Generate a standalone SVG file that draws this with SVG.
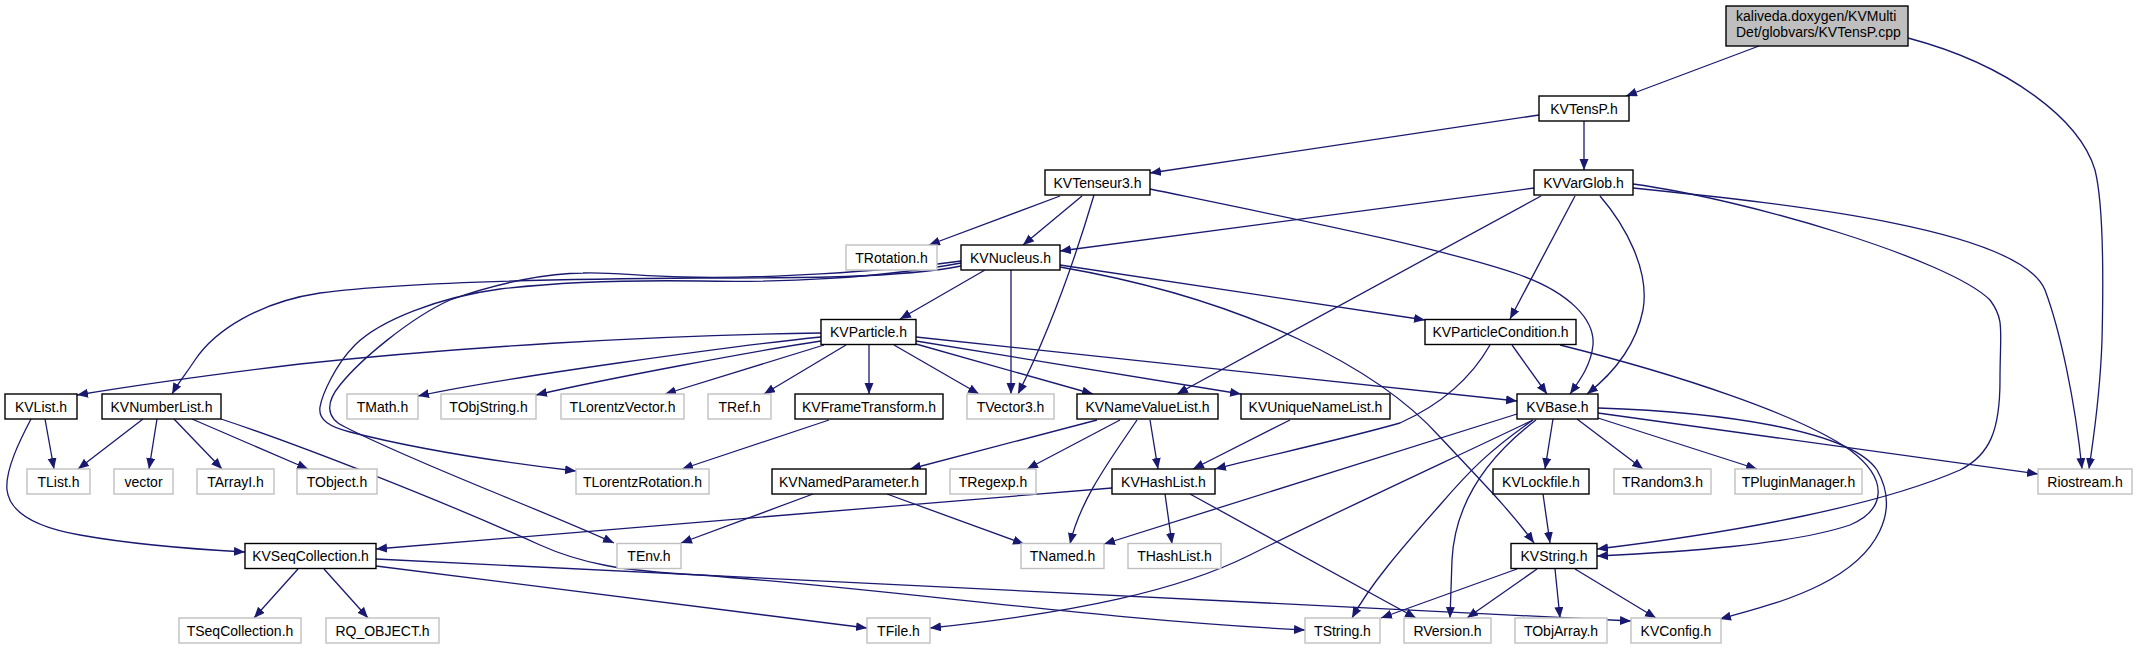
<svg xmlns="http://www.w3.org/2000/svg" width="2137" height="649" viewBox="0 0 2137 649">
<style>
.n rect{fill:#fff;stroke:#000;stroke-width:1.4}
.g rect{fill:#fff;stroke:#c0c0c0;stroke-width:1.4}
.r rect{fill:#bfbfbf;stroke:#000;stroke-width:1.4}
text{font-family:"Liberation Sans",Arial,sans-serif;font-size:14px;text-anchor:middle;fill:#000}
.r text{text-anchor:start}
#edges path{fill:none;stroke:#191970;stroke-width:1.3;marker-end:url(#a)}
</style>
<defs>
<marker id="a" markerWidth="12" markerHeight="10" refX="11" refY="4.5" orient="auto" markerUnits="userSpaceOnUse"><path d="M0,0 L11,4.5 L0,9 z" fill="#191970"/></marker>
</defs>
<rect width="2137" height="649" fill="#fff"/>
<g id="edges">
<path d="M1759,46 L1626,96"/>
<path d="M1908,38 C2010,65 2080,120 2095,170 C2105,210 2103,300 2102,340 C2100,400 2093,440 2089,469"/>
<path d="M1539,115 L1150,173"/>
<path d="M1584,121 L1584,170"/>
<path d="M1060,196 L929,245"/>
<path d="M1082,196 L1023,245"/>
<path d="M1094,195 Q1060,310 1018,394"/>
<path d="M1150,189 C1300,220 1450,250 1520,275 C1570,293 1595,320 1593,345 C1591,365 1580,380 1570,394"/>
<path d="M1534,188 L1060,251"/>
<path d="M1541,196 L1177,394"/>
<path d="M1575,196 L1510,319"/>
<path d="M1600,196 C1625,225 1650,270 1643,310 C1636,345 1615,372 1587,394"/>
<path d="M1633,184 C1750,200 1950,260 1990,300 C2005,320 2000,330 2000,380 C2000,430 1990,455 1960,470 C1880,505 1740,532 1597,549"/>
<path d="M1633,188 C1800,205 2020,230 2045,290 C2060,330 2075,400 2082,469"/>
<path d="M985,270 L900,319"/>
<path d="M961,266 C900,278 800,278 700,278 C550,279 400,282 320,293 C260,302 215,330 195,360 C185,375 177,385 172,394"/>
<path d="M961,263 C880,278 780,283 700,281 C630,280 560,282 500,289 C440,297 380,320 355,345 C335,365 322,395 320,407 C318,420 330,427 350,432 C420,450 500,462 576,471"/>
<path d="M961,261 C880,272 760,279 683,277 C640,276 610,272 583,273 C550,273 500,282 450,300 C410,318 360,360 340,385 C326,402 325,418 345,427 C420,465 530,505 614,543"/>
<path d="M1011,270 L1011,394"/>
<path d="M1060,265 L1425,320"/>
<path d="M1060,267 C1250,300 1380,370 1440,437 C1480,480 1510,510 1534,543"/>
<path d="M821,333 C650,335 450,348 300,364 C200,376 120,388 77,395"/>
<path d="M821,337 C740,345 500,378 418,396"/>
<path d="M821,341 C760,350 600,380 536,395"/>
<path d="M824,345 L665,394"/>
<path d="M846,345 L764,394"/>
<path d="M869,344 L869,394"/>
<path d="M894,345 L979,394"/>
<path d="M916,344 L1093,394"/>
<path d="M916,341 L1241,394"/>
<path d="M916,337 L1517,401"/>
<path d="M143,419 L78,469"/>
<path d="M157,419 L149,469"/>
<path d="M174,419 L222,469"/>
<path d="M192,419 L308,469"/>
<path d="M221,419 C300,445 440,500 540,545 C580,563 620,571 700,575 C900,590 1100,620 1305,630"/>
<path d="M45,419 L54,469"/>
<path d="M31,419 C20,440 5,470 7,490 C10,515 40,528 80,535 C130,544 190,549 245,552"/>
<path d="M298,569 L254,618"/>
<path d="M324,569 L368,618"/>
<path d="M376,566 L867,628"/>
<path d="M376,559 L1631,621"/>
<path d="M1112,488 L376,549"/>
<path d="M1165,494 L1172,544"/>
<path d="M1190,494 L1416,618"/>
<path d="M829,420 L682,469"/>
<path d="M813,494 L681,543"/>
<path d="M887,494 L1024,544"/>
<path d="M1097,420 L910,469"/>
<path d="M1120,420 L1027,469"/>
<path d="M1137,420 C1110,460 1080,500 1070,544"/>
<path d="M1150,420 L1158,469"/>
<path d="M1290,420 L1193,469"/>
<path d="M1512,345 L1547,394"/>
<path d="M1490,345 C1470,380 1440,405 1400,423 C1340,440 1270,455 1215,469"/>
<path d="M1560,345 C1680,375 1800,415 1850,450 C1890,480 1885,510 1850,525 C1790,545 1680,552 1597,556"/>
<path d="M1517,414 L1104,544"/>
<path d="M1533,420 C1460,455 1330,515 1250,555 C1180,590 1080,612 930,628"/>
<path d="M1533,420 C1490,450 1470,470 1440,505 C1400,550 1370,585 1352,618"/>
<path d="M1536,420 C1490,455 1455,500 1452,560 L1450,618"/>
<path d="M1553,419 L1545,469"/>
<path d="M1577,419 L1643,469"/>
<path d="M1598,418 L1757,469"/>
<path d="M1598,413 L2038,474"/>
<path d="M1598,408 C1720,412 1850,430 1877,470 C1900,510 1880,555 1820,585 C1790,600 1760,608 1720,619"/>
<path d="M1543,494 L1550,543"/>
<path d="M1517,569 L1381,618"/>
<path d="M1537,569 L1467,618"/>
<path d="M1555,569 L1560,618"/>
<path d="M1575,569 L1656,618"/>
</g>
<g id="n_root" class="r"><rect x="1726" y="6" width="182" height="40"/><text x="1736" y="21">kaliveda.doxygen/KVMulti</text><text x="1736" y="37">Det/globvars/KVTensP.cpp</text></g>
<g id="n_KVTensP" class="n"><rect x="1539" y="96" width="90" height="25"/><text x="1584" y="113.5">KVTensP.h</text></g>
<g id="n_KVTenseur3" class="n"><rect x="1045" y="170" width="105" height="25"/><text x="1097.5" y="187.5">KVTenseur3.h</text></g>
<g id="n_KVVarGlob" class="n"><rect x="1534" y="170" width="99" height="25"/><text x="1583.5" y="187.5">KVVarGlob.h</text></g>
<g id="n_TRotation" class="g"><rect x="846" y="245" width="91" height="25"/><text x="891.5" y="262.5">TRotation.h</text></g>
<g id="n_KVNucleus" class="n"><rect x="961" y="245" width="99" height="25"/><text x="1010.5" y="262.5">KVNucleus.h</text></g>
<g id="n_KVParticle" class="n"><rect x="821" y="319.5" width="95" height="25"/><text x="868.5" y="337">KVParticle.h</text></g>
<g id="n_KVParticleCondition" class="n"><rect x="1425" y="319.5" width="151" height="25"/><text x="1500.5" y="337">KVParticleCondition.h</text></g>
<g id="n_KVList" class="n"><rect x="5" y="394" width="72" height="25"/><text x="41" y="411.5">KVList.h</text></g>
<g id="n_KVNumberList" class="n"><rect x="102" y="394" width="119" height="25"/><text x="161.5" y="411.5">KVNumberList.h</text></g>
<g id="n_TMath" class="g"><rect x="347" y="394" width="71" height="25"/><text x="382.5" y="411.5">TMath.h</text></g>
<g id="n_TObjString" class="g"><rect x="441" y="394" width="95" height="25"/><text x="488.5" y="411.5">TObjString.h</text></g>
<g id="n_TLorentzVector" class="g"><rect x="561" y="394" width="123" height="25"/><text x="622.5" y="411.5">TLorentzVector.h</text></g>
<g id="n_TRef" class="g"><rect x="708" y="394" width="63" height="25"/><text x="739.5" y="411.5">TRef.h</text></g>
<g id="n_KVFrameTransform" class="n"><rect x="795" y="394" width="148" height="25"/><text x="869" y="411.5">KVFrameTransform.h</text></g>
<g id="n_TVector3" class="g"><rect x="967" y="394" width="87" height="25"/><text x="1010.5" y="411.5">TVector3.h</text></g>
<g id="n_KVNameValueList" class="n"><rect x="1077" y="394" width="141" height="25"/><text x="1147.5" y="411.5">KVNameValueList.h</text></g>
<g id="n_KVUniqueNameList" class="n"><rect x="1241" y="394" width="149" height="25"/><text x="1315.5" y="411.5">KVUniqueNameList.h</text></g>
<g id="n_KVBase" class="n"><rect x="1517" y="394" width="81" height="25"/><text x="1557.5" y="411.5">KVBase.h</text></g>
<g id="n_TList" class="g"><rect x="27" y="469" width="63" height="25"/><text x="58.5" y="486.5">TList.h</text></g>
<g id="n_vector" class="g"><rect x="114" y="469" width="59" height="25"/><text x="143.5" y="486.5">vector</text></g>
<g id="n_TArrayI" class="g"><rect x="197" y="469" width="77" height="25"/><text x="235.5" y="486.5">TArrayI.h</text></g>
<g id="n_TObject" class="g"><rect x="297" y="469" width="80" height="25"/><text x="337" y="486.5">TObject.h</text></g>
<g id="n_TLorentzRotation" class="g"><rect x="576" y="469" width="133" height="25"/><text x="642.5" y="486.5">TLorentzRotation.h</text></g>
<g id="n_KVNamedParameter" class="n"><rect x="772" y="469" width="154" height="25"/><text x="849" y="486.5">KVNamedParameter.h</text></g>
<g id="n_TRegexp" class="g"><rect x="950" y="469" width="86" height="25"/><text x="993" y="486.5">TRegexp.h</text></g>
<g id="n_KVHashList" class="n"><rect x="1112" y="469" width="103" height="25"/><text x="1163.5" y="486.5">KVHashList.h</text></g>
<g id="n_KVLockfile" class="n"><rect x="1493" y="469" width="96" height="25"/><text x="1541" y="486.5">KVLockfile.h</text></g>
<g id="n_TRandom3" class="g"><rect x="1614" y="469" width="97" height="25"/><text x="1662.5" y="486.5">TRandom3.h</text></g>
<g id="n_TPluginManager" class="g"><rect x="1735" y="469" width="127" height="25"/><text x="1798.5" y="486.5">TPluginManager.h</text></g>
<g id="n_Riostream" class="g"><rect x="2038" y="469" width="94" height="25"/><text x="2085" y="486.5">Riostream.h</text></g>
<g id="n_KVSeqCollection" class="n"><rect x="245" y="543.5" width="131" height="25"/><text x="310.5" y="561">KVSeqCollection.h</text></g>
<g id="n_TEnv" class="g"><rect x="617" y="543.5" width="64" height="25"/><text x="649" y="561">TEnv.h</text></g>
<g id="n_TNamed" class="g"><rect x="1021" y="543.5" width="83" height="25"/><text x="1062.5" y="561">TNamed.h</text></g>
<g id="n_THashList" class="g"><rect x="1128" y="543.5" width="93" height="25"/><text x="1174.5" y="561">THashList.h</text></g>
<g id="n_KVString" class="n"><rect x="1511" y="543.5" width="86" height="25"/><text x="1554" y="561">KVString.h</text></g>
<g id="n_TSeqCollection" class="g"><rect x="179" y="618" width="122" height="25"/><text x="240" y="635.5">TSeqCollection.h</text></g>
<g id="n_RQ_OBJECT" class="g"><rect x="326" y="618" width="113" height="25"/><text x="382.5" y="635.5">RQ_OBJECT.h</text></g>
<g id="n_TFile" class="g"><rect x="867" y="618" width="63" height="25"/><text x="898.5" y="635.5">TFile.h</text></g>
<g id="n_TString" class="g"><rect x="1305" y="618" width="75" height="25"/><text x="1342.5" y="635.5">TString.h</text></g>
<g id="n_RVersion" class="g"><rect x="1404" y="618" width="87" height="25"/><text x="1447.5" y="635.5">RVersion.h</text></g>
<g id="n_TObjArray" class="g"><rect x="1515" y="618" width="92" height="25"/><text x="1561" y="635.5">TObjArray.h</text></g>
<g id="n_KVConfig" class="g"><rect x="1631" y="618" width="90" height="25"/><text x="1676" y="635.5">KVConfig.h</text></g>
</svg>
